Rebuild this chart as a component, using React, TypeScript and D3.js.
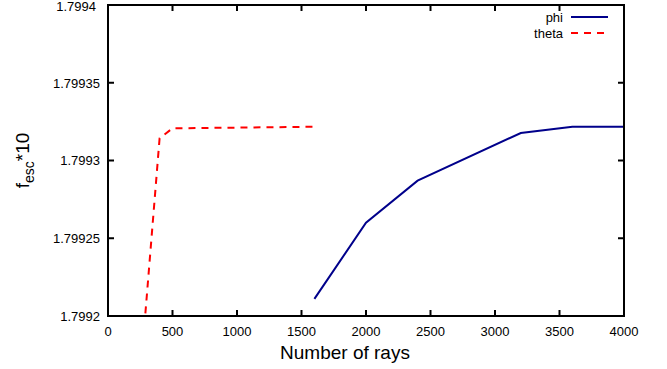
import React from "react";
import * as d3 from "d3";

const phiRays = [1600, 2000, 2400, 3200, 3600, 4000];
const phiValues = [1.799211, 1.79926, 1.799287, 1.7993177, 1.7993217, 1.7993217];
const thetaRays = [200, 400, 500, 1600];
const thetaValues = [1.79911, 1.7993143, 1.7993207, 1.7993217];
const xTicks = [0, 500, 1000, 1500, 2000, 2500, 3000, 3500, 4000];
const yTicks = [1.7992, 1.79925, 1.7993, 1.79935, 1.7994];
const yTickLabels = ["1.7992", "1.79925", "1.7993", "1.79935", "1.7994"];

const W = 667, H = 369;
const L = 108, R = 624, T = 5, B = 316;
const FONT = "'Liberation Sans', Arial, Helvetica, sans-serif";

export default function App() {
  const x = d3.scaleLinear().domain([0, 4000]).range([L, R]);
  const y = d3.scaleLinear().domain([1.7992, 1.7994]).range([B, T]);
  const line = d3.line<[number, number]>().x(d => x(d[0])).y(d => y(d[1]));
  const phi = phiRays.map((r, i) => [r, phiValues[i]] as [number, number]);
  const theta = thetaRays.map((r, i) => [r, thetaValues[i]] as [number, number]);
  const tl = 6;
  return (
    <svg width={W} height={H} style={{ display: "block", position: "absolute", left: 0, top: 0 }} fontFamily={FONT}>
      <rect width={W} height={H} fill="white" />
      <defs>
        <clipPath id="plot">
          <rect x={L} y={T} width={R - L} height={B - T} />
        </clipPath>
      </defs>
      {xTicks.map(t => (
        <g key={"x" + t}>
          <line x1={x(t)} x2={x(t)} y1={B} y2={B - tl} stroke="black" strokeWidth={2} />
          <line x1={x(t)} x2={x(t)} y1={T} y2={T + tl} stroke="black" strokeWidth={2} />
          <text x={x(t)} y={336} textAnchor="middle" fontSize={13}>{t}</text>
        </g>
      ))}
      {yTicks.map((t, i) => (
        <g key={"y" + t}>
          <line x1={L} x2={L + tl} y1={y(t)} y2={y(t)} stroke="black" strokeWidth={2} />
          <line x1={R} x2={R - tl} y1={y(t)} y2={y(t)} stroke="black" strokeWidth={2} />
          <text x={i === yTicks.length - 1 ? 96 : 100} y={Math.max(y(t) + 4.8, 11)} textAnchor="end" fontSize={13}>{yTickLabels[i]}</text>
        </g>
      ))}
      <g clipPath="url(#plot)">
        <path d={line(theta) || ""} fill="none" stroke="#ff0000" strokeWidth={2} strokeDasharray="7,6" />
        <path d={line(phi) || ""} fill="none" stroke="#00008b" strokeWidth={2} />
      </g>
      <rect x={L} y={T} width={R - L} height={B - T} fill="none" stroke="black" strokeWidth={2} />
      <text x={563} y={21.5} textAnchor="end" fontSize={13}>phi</text>
      <line x1={571} x2={608} y1={17} y2={17} stroke="#00008b" strokeWidth={2} />
      <text x={563} y={37.5} textAnchor="end" fontSize={13}>theta</text>
      <line x1={571} x2={608} y1={33} y2={33} stroke="#ff0000" strokeWidth={2} strokeDasharray="7,6" />
      <text x={345} y={359} textAnchor="middle" fontSize={19}>Number of rays</text>
      <text transform={`translate(29,${(T + B) / 2}) rotate(-90)`} textAnchor="middle" fontSize={19}>
        f<tspan fontSize={14} dy={5}>esc</tspan><tspan dy={-5}>*10</tspan>
      </text>
    </svg>
  );
}
